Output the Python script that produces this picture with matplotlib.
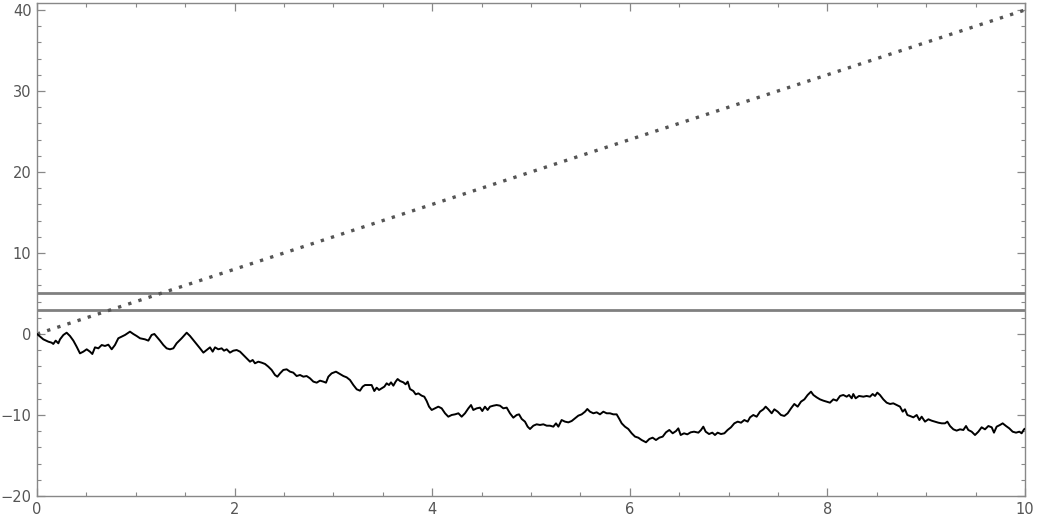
import numpy as np
import matplotlib
matplotlib.use('Agg')
import matplotlib.pyplot as plt
from matplotlib.ticker import MultipleLocator

# Random walk path (t, value)
walk_t = [0.000, 0.064, 0.115, 0.148, 0.165, 0.189, 0.216, 0.233, 0.267, 0.300,
          0.334, 0.368, 0.401, 0.435, 0.469, 0.503, 0.536, 0.560, 0.587, 0.621,
          0.655, 0.688, 0.722, 0.756, 0.789, 0.823, 0.857, 0.891, 0.941, 0.975,
          1.009, 1.043, 1.093, 1.127, 1.160, 1.188, 1.211, 1.245, 1.279, 1.312,
          1.346, 1.380, 1.413, 1.464, 1.515, 1.549, 1.582, 1.616, 1.650, 1.684,
          1.717, 1.751, 1.778, 1.802, 1.835, 1.869, 1.893, 1.920, 1.953, 1.987,
          2.021, 2.055, 2.088, 2.122, 2.156, 2.183, 2.206, 2.240, 2.274, 2.308,
          2.341, 2.375, 2.409, 2.433, 2.460, 2.493, 2.527, 2.561, 2.594, 2.628,
          2.662, 2.696, 2.729, 2.763, 2.797, 2.831, 2.864, 2.898, 2.925, 2.949,
          2.982, 3.026, 3.067, 3.101, 3.134, 3.168, 3.202, 3.236, 3.269, 3.296,
          3.320, 3.354, 3.387, 3.414, 3.438, 3.462, 3.489, 3.516, 3.539, 3.563,
          3.583, 3.607, 3.630, 3.650, 3.674, 3.708, 3.731, 3.752, 3.775, 3.809,
          3.833, 3.860, 3.893, 3.920, 3.944, 3.968, 3.995, 4.028, 4.062, 4.096,
          4.130, 4.163, 4.197, 4.231, 4.265, 4.298, 4.332, 4.366, 4.393, 4.416,
          4.450, 4.484, 4.507, 4.534, 4.561, 4.585, 4.619, 4.652, 4.686, 4.720,
          4.754, 4.787, 4.821, 4.855, 4.879, 4.906, 4.939, 4.966, 4.990, 5.024,
          5.057, 5.091, 5.125, 5.159, 5.192, 5.226, 5.253, 5.277, 5.310, 5.344,
          5.378, 5.412, 5.445, 5.479, 5.513, 5.547, 5.570, 5.597, 5.631, 5.665,
          5.698, 5.732, 5.766, 5.800, 5.833, 5.867, 5.894, 5.918, 5.951, 5.985,
          6.019, 6.053, 6.086, 6.120, 6.164, 6.198, 6.231, 6.265, 6.299, 6.333,
          6.366, 6.400, 6.434, 6.468, 6.491, 6.515, 6.549, 6.582, 6.616, 6.650,
          6.694, 6.721, 6.744, 6.768, 6.802, 6.835, 6.862, 6.889, 6.923, 6.957,
          6.990, 7.024, 7.058, 7.092, 7.126, 7.159, 7.193, 7.217, 7.250, 7.284,
          7.318, 7.352, 7.375, 7.402, 7.436, 7.463, 7.497, 7.530, 7.564, 7.598,
          7.632, 7.665, 7.699, 7.733, 7.767, 7.800, 7.834, 7.858, 7.891, 7.925,
          7.959, 7.993, 8.026, 8.060, 8.094, 8.128, 8.161, 8.195, 8.219, 8.246,
          8.262, 8.286, 8.320, 8.364, 8.397, 8.431, 8.458, 8.482, 8.505, 8.532,
          8.566, 8.600, 8.634, 8.667, 8.701, 8.735, 8.762, 8.785, 8.809, 8.836,
          8.870, 8.904, 8.931, 8.954, 8.988, 9.022, 9.055, 9.089, 9.123, 9.157,
          9.190, 9.214, 9.241, 9.275, 9.308, 9.342, 9.376, 9.403, 9.426, 9.460,
          9.494, 9.528, 9.561, 9.595, 9.629, 9.663, 9.686, 9.713, 9.747, 9.774,
          9.808, 9.841, 9.875, 9.909, 9.943, 9.966, 9.990, 10.000]
walk_v = [0.00, -0.66, -0.95, -1.07, -1.23, -0.82, -1.15, -0.66, -0.12, 0.16,
          -0.25, -0.82, -1.56, -2.39, -2.18, -1.89, -2.18, -2.47, -1.65, -1.77,
          -1.36, -1.48, -1.32, -1.89, -1.36, -0.53, -0.33, -0.12, 0.29, 0.00,
          -0.25, -0.53, -0.66, -0.82, -0.12, 0.00, -0.33, -0.82, -1.36, -1.77,
          -1.89, -1.77, -1.15, -0.53, 0.16, -0.25, -0.74, -1.23, -1.77, -2.30,
          -1.98, -1.65, -2.18, -1.65, -1.89, -1.77, -2.06, -1.89, -2.30, -2.06,
          -1.98, -2.18, -2.59, -3.00, -3.42, -3.21, -3.62, -3.42, -3.54, -3.70,
          -4.03, -4.44, -5.06, -5.27, -4.86, -4.44, -4.36, -4.65, -4.77, -5.19,
          -5.06, -5.27, -5.19, -5.47, -5.88, -6.01, -5.76, -5.88, -6.01, -5.27,
          -4.86, -4.65, -4.94, -5.19, -5.35, -5.68, -6.30, -6.83, -7.00, -6.50,
          -6.30, -6.30, -6.30, -7.04, -6.63, -6.91, -6.71, -6.50, -6.09, -6.30,
          -5.97, -6.38, -5.88, -5.56, -5.80, -5.97, -6.21, -5.88, -6.79, -7.04,
          -7.45, -7.33, -7.61, -7.74, -8.27, -8.97, -9.38, -9.18, -8.97, -9.18,
          -9.79, -10.21, -10.00, -9.92, -9.79, -10.21, -9.79, -9.18, -8.77, -9.38,
          -9.18, -9.09, -9.51, -8.97, -9.38, -8.97, -8.85, -8.77, -8.85, -9.18,
          -9.09, -9.79, -10.33, -10.00, -9.92, -10.49, -10.82, -11.44, -11.73, -11.32,
          -11.15, -11.23, -11.15, -11.32, -11.32, -11.44, -11.03, -11.44, -10.62, -10.82,
          -10.91, -10.74, -10.41, -10.08, -9.92, -9.59, -9.26, -9.59, -9.79, -9.67,
          -9.92, -9.59, -9.79, -9.79, -9.92, -9.92, -10.49, -11.03, -11.44, -11.73,
          -12.26, -12.67, -12.80, -13.09, -13.37, -12.96, -12.80, -13.09, -12.80, -12.67,
          -12.14, -11.85, -12.26, -11.98, -11.65, -12.47, -12.26, -12.39, -12.14, -12.06,
          -12.18, -11.85, -11.44, -12.06, -12.35, -12.18, -12.47, -12.18, -12.35, -12.26,
          -11.85, -11.52, -11.03, -10.82, -10.95, -10.62, -10.82, -10.29, -10.00, -10.21,
          -9.59, -9.30, -8.97, -9.30, -9.79, -9.30, -9.59, -10.00, -10.12, -9.79,
          -9.18, -8.64, -8.97, -8.35, -8.07, -7.53, -7.12, -7.53, -7.82, -8.07,
          -8.23, -8.35, -8.48, -8.07, -8.23, -7.65, -7.53, -7.74, -7.53, -7.94,
          -7.41, -7.94, -7.65, -7.74, -7.65, -7.74, -7.41, -7.65, -7.24, -7.53,
          -8.07, -8.48, -8.64, -8.56, -8.77, -8.97, -9.59, -9.30, -10.00, -10.12,
          -10.29, -10.00, -10.62, -10.21, -10.82, -10.53, -10.70, -10.82, -10.95, -11.03,
          -11.03, -10.82, -11.36, -11.77, -11.93, -11.77, -11.85, -11.36, -11.85, -12.06,
          -12.47, -12.06, -11.52, -11.77, -11.36, -11.52, -12.18, -11.44, -11.23, -11.03,
          -11.36, -11.65, -12.06, -12.18, -12.06, -12.26, -11.77, -11.70]

# Drift line and the two horizontal levels
drift_t = [0, 10]
drift_v = [0, 40]
levels = [5, 3]

fig = plt.figure(figsize=(10.37, 5.24), dpi=100)
ax = fig.add_axes([37/1037, 1 - 496/524, (1025 - 37)/1037, (496 - 3)/524])

for lv in levels:
    ax.axhline(lv, color='#808080', lw=2.0, zorder=1)

ax.plot(drift_t, drift_v, color='#555555', lw=2.4,
        linestyle=(0, (1, 2.2)), zorder=2)
ax.plot(walk_t, walk_v, color='black', lw=1.4, zorder=3)

ax.set_xlim(0, 10)
ax.set_ylim(-20, 40.86)

ax.xaxis.set_major_locator(MultipleLocator(2))
ax.xaxis.set_minor_locator(MultipleLocator(0.5))
ax.yaxis.set_major_locator(MultipleLocator(10))
ax.yaxis.set_minor_locator(MultipleLocator(2))

for sp in ax.spines.values():
    sp.set_color('#888888')
    sp.set_linewidth(1.0)

ax.tick_params(which='both', direction='in', top=True, right=True,
               color='#888888', labelcolor='#555555', labelsize=10.5)
ax.tick_params(which='major', length=5.5, width=0.9, pad=4)
ax.tick_params(which='minor', length=3, width=0.8)

plt.savefig('out.png', dpi=100)
